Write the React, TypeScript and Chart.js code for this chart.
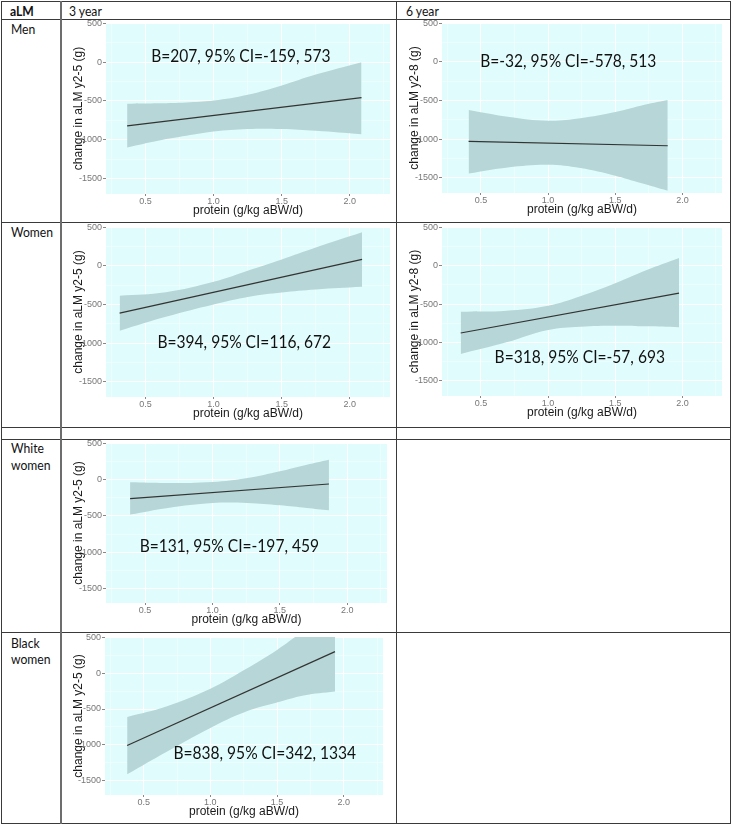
import React, { useEffect, useRef } from 'react';
import { Chart, registerables } from 'chart.js';
Chart.register(...registerables);

// ---- shared axes ----
const X_MIN = 0.21;
const X_MAX = 2.295;
const Y_MIN = -1700;
const Y_MAX = 505;
const xMajor = [0.5, 1.0, 1.5, 2.0];
const xMinor = [0.25, 0.75, 1.25, 1.75, 2.25];
const yMajor = [-1500, -1000, -500, 0, 500];
const yMinor = [-1250, -750, -250, 250];
const xTitle = 'protein (g/kg aBW/d)';

// ---- Men, 3 year ----
const men3BandX = [0.365, 0.6, 0.8, 1.0, 1.25, 1.5, 1.75, 2.086];
const men3Upper = [-536, -530, -520, -495, -420, -300, -160, 0];
const men3Lower = [-1101, -1010, -950, -895, -862, -862, -885, -930];
const men3FitX = [0.365, 2.086];
const men3FitY = [-822, -458];

// ---- Men, 6 year ----
const men6BandX = [0.408, 0.7, 1.0, 1.24, 1.5, 1.69, 1.891];
const men6Upper = [-623, -710, -762, -730, -650, -567, -494];
const men6Lower = [-1446, -1368, -1333, -1376, -1476, -1571, -1671];
const men6FitX = [0.408, 1.891];
const men6FitY = [-1030, -1087];

// ---- Women, 3 year ----
const wom3BandX = [0.31, 0.65, 1.0, 1.26, 1.5, 1.75, 2.09];
const wom3Upper = [-386, -340, -206, -55, 85, 240, 437];
const wom3Lower = [-840, -660, -501, -400, -345, -305, -270];
const wom3FitX = [0.31, 2.09];
const wom3FitY = [-613, 86];

// ---- Women, 6 year ----
const wom6BandX = [0.349, 0.69, 1.0, 1.24, 1.5, 1.73, 1.975];
const wom6Upper = [-600, -587, -522, -400, -230, -60, 100];
const wom6Lower = [-1152, -1000, -839, -796, -783, -791, -804];
const wom6FitX = [0.349, 1.975];
const wom6FitY = [-878, -357];

// ---- White women, 3 year ----
const whiteBandX = [0.389, 0.67, 1.0, 1.26, 1.5, 1.7, 1.864];
const whiteUpper = [-37, -46, -32, 23, 115, 206, 275];
const whiteLower = [-482, -390, -321, -321, -353, -390, -422];
const whiteFitX = [0.389, 1.864];
const whiteFitY = [-261, -60];

// ---- Black women, 3 year ----
const blackBandX = [0.376, 0.67, 1.0, 1.26, 1.5, 1.7, 1.935];
const blackUpper = [-611, -465, -218, 50, 325, 590, 880];
const blackLower = [-1412, -1100, -764, -542, -410, -310, -255];
const blackFitX = [0.376, 1.935];
const blackFitY = [-1009, 301];

// ---- annotations ----
const labels = [
  'B=207, 95% CI=-159, 573',
  'B=-32, 95% CI=-578, 513',
  'B=394, 95% CI=116, 672',
  'B=318, 95% CI=-57, 693',
  'B=131, 95% CI=-197, 459',
  'B=838, 95% CI=342, 1334',
];

const FONT_AXIS = '"Liberation Sans", Arial, sans-serif';
const FONT_TEXT = 'Lato, "Open Sans", sans-serif';
const BG = '#e1fcfc';
const BAND = '#b7d6d7';

type Rect = { left: number; top: number; width: number; height: number };
type Plot = { l: number; t: number; r: number; b: number };
type PanelCfg = {
  rect: Rect;
  plot: Plot;
  yTitle: string;
  bandX: number[];
  upper: number[];
  lower: number[];
  fitX: number[];
  fitY: number[];
  label: string;
  labelX: number;
  labelY: number;
};

const zip = (xs: number[], ys: number[]) => xs.map((x, i) => ({ x, y: ys[i] }));

function Panel({ cfg }: { cfg: PanelCfg }) {
  const ref = useRef<HTMLCanvasElement>(null);
  useEffect(() => {
    if (!ref.current) return;
    const { rect, plot } = cfg;
    const canvasBottom = rect.top + rect.height;
    const xTitleCenter = plot.b + 16.7;
    const xTitlePad = Math.max(0, canvasBottom - xTitleCenter - 7.2);

    const bgPlugin = {
      id: 'panelBg',
      beforeDraw(chart: any) {
        const { ctx, chartArea: a } = chart;
        ctx.save();
        ctx.fillStyle = BG;
        ctx.fillRect(a.left, a.top, a.right - a.left, a.bottom - a.top);
        ctx.restore();
      },
    };
    const textPlugin = {
      id: 'annot',
      afterDatasetsDraw(chart: any) {
        const { ctx } = chart;
        const px = chart.scales.x.getPixelForValue(cfg.labelX);
        const py = chart.scales.y.getPixelForValue(cfg.labelY);
        ctx.save();
        ctx.translate(px, py);
        ctx.scale(0.915, 1);
        ctx.font = `17px ${FONT_TEXT}`;
        ctx.fillStyle = '#111';
        ctx.textAlign = 'center';
        ctx.textBaseline = 'middle';
        ctx.fillText(cfg.label, 0, 0);
        ctx.restore();
      },
    };

    const isMajorX = (v: number) => xMajor.some((m) => Math.abs(m - v) < 1e-6);
    const isMajorY = (v: number) => yMajor.some((m) => Math.abs(m - v) < 1e-6);

    const chart = new Chart(ref.current, {
      type: 'line',
      data: {
        datasets: [
          {
            data: zip(cfg.fitX, cfg.fitY),
            borderColor: '#333333',
            borderWidth: 1.2,
            pointRadius: 0,
            fill: false,
          },
          {
            data: zip(cfg.bandX, cfg.upper),
            borderWidth: 0,
            borderColor: 'rgba(0,0,0,0)',
            backgroundColor: BAND,
            pointRadius: 0,
            tension: 0.4,
            fill: '+1',
          },
          {
            data: zip(cfg.bandX, cfg.lower),
            borderWidth: 0,
            borderColor: 'rgba(0,0,0,0)',
            pointRadius: 0,
            tension: 0.4,
            fill: false,
          },
        ],
      } as any,
      options: {
        responsive: false,
        animation: false,
        events: [],
        devicePixelRatio: 1,
        layout: {
          padding: {
            top: plot.t - rect.top,
            right: rect.left + rect.width - plot.r,
            left: 0,
            bottom: 0,
          },
        },
        plugins: {
          legend: { display: false },
          tooltip: { enabled: false },
        },
        scales: {
          x: {
            type: 'linear',
            position: 'bottom',
            min: X_MIN,
            max: X_MAX,
            afterBuildTicks: (s: any) => {
              s.ticks = [...xMinor, ...xMajor].sort((a, b) => a - b).map((v) => ({ value: v }));
            },
            afterFit: (s: any) => {
              s.height = canvasBottom - plot.b;
            },
            border: { display: false },
            grid: {
              color: (c: any) => (isMajorX(c.tick.value) ? '#ffffff' : 'rgba(255,255,255,0.7)'),
              lineWidth: (c: any) => (isMajorX(c.tick.value) ? 1 : 0.5),
              tickColor: (c: any) => (isMajorX(c.tick.value) ? '#888888' : 'rgba(0,0,0,0)'),
              tickLength: 2,
              drawTicks: true,
            },
            ticks: {
              autoSkip: false,
              maxRotation: 0,
              padding: 0,
              color: '#777777',
              font: { family: FONT_AXIS, size: 9 },
              callback: (v: any) => (isMajorX(Number(v)) ? Number(v).toFixed(1) : ''),
            },
            title: {
              display: true,
              text: xTitle,
              color: '#1a1a1a',
              font: { family: FONT_AXIS, size: 12 },
              padding: { top: 0, bottom: xTitlePad },
            },
          },
          y: {
            type: 'linear',
            min: Y_MIN,
            max: Y_MAX,
            afterBuildTicks: (s: any) => {
              s.ticks = [...yMinor, ...yMajor].sort((a, b) => a - b).map((v) => ({ value: v }));
            },
            afterFit: (s: any) => {
              s.width = plot.l - rect.left;
            },
            border: { display: false },
            grid: {
              color: (c: any) => (isMajorY(c.tick.value) ? '#ffffff' : 'rgba(255,255,255,0.7)'),
              lineWidth: (c: any) => (isMajorY(c.tick.value) ? 1 : 0.5),
              tickColor: (c: any) => (isMajorY(c.tick.value) ? '#888888' : 'rgba(0,0,0,0)'),
              tickLength: 3,
              drawTicks: true,
            },
            ticks: {
              autoSkip: false,
              padding: 1,
              color: '#777777',
              font: { family: FONT_AXIS, size: 9 },
              callback: (v: any) => (isMajorY(Number(v)) ? String(v) : ''),
            },
            title: {
              display: true,
              text: cfg.yTitle,
              color: '#1a1a1a',
              font: { family: FONT_AXIS, size: 12 },
              padding: { top: 9.8, bottom: 0 },
            },
          },
        },
      } as any,
      plugins: [bgPlugin, textPlugin],
    });
    return () => chart.destroy();
  }, [cfg]);

  const { rect } = cfg;
  return (
    <canvas
      ref={ref}
      width={rect.width}
      height={rect.height}
      style={{
        position: 'absolute',
        left: rect.left,
        top: rect.top,
        width: rect.width,
        height: rect.height,
        pointerEvents: 'none',
      }}
    />
  );
}

const panels: PanelCfg[] = [
  {
    rect: { left: 62, top: 12, width: 334, height: 210 },
    plot: { l: 106, t: 23, r: 390, b: 194 },
    yTitle: 'change in aLM y2-5 (g)',
    bandX: men3BandX, upper: men3Upper, lower: men3Lower, fitX: men3FitX, fitY: men3FitY,
    label: labels[0], labelX: 1.2, labelY: 75,
  },
  {
    rect: { left: 398, top: 12, width: 332, height: 210 },
    plot: { l: 442, t: 23, r: 722, b: 193 },
    yTitle: 'change in aLM y2-8 (g)',
    bandX: men6BandX, upper: men6Upper, lower: men6Lower, fitX: men6FitX, fitY: men6FitY,
    label: labels[1], labelX: 1.15, labelY: 0,
  },
  {
    rect: { left: 62, top: 215, width: 334, height: 212 },
    plot: { l: 106, t: 227, r: 390, b: 397 },
    yTitle: 'change in aLM y2-5 (g)',
    bandX: wom3BandX, upper: wom3Upper, lower: wom3Lower, fitX: wom3FitX, fitY: wom3FitY,
    label: labels[2], labelX: 1.225, labelY: -995,
  },
  {
    rect: { left: 398, top: 215, width: 332, height: 212 },
    plot: { l: 442, t: 227, r: 722, b: 396 },
    yTitle: 'change in aLM y2-8 (g)',
    bandX: wom6BandX, upper: wom6Upper, lower: wom6Lower, fitX: wom6FitX, fitY: wom6FitY,
    label: labels[3], labelX: 1.236, labelY: -1196,
  },
  {
    rect: { left: 62, top: 431, width: 334, height: 197 },
    plot: { l: 106, t: 443, r: 387, b: 603 },
    yTitle: 'change in aLM y2-5 (g)',
    bandX: whiteBandX, upper: whiteUpper, lower: whiteLower, fitX: whiteFitX, fitY: whiteFitY,
    label: labels[4], labelX: 1.125, labelY: -927,
  },
  {
    rect: { left: 62, top: 625, width: 334, height: 198 },
    plot: { l: 105, t: 637, r: 383, b: 795 },
    yTitle: 'change in aLM y2-5 (g)',
    bandX: blackBandX, upper: blackUpper, lower: blackLower, fitX: blackFitX, fitY: blackFitY,
    label: labels[5], labelX: 1.408, labelY: -1125,
  },
];

const LINE = '#3a3a3a';
const hLine = (y: number, key: string) => (
  <div key={key} style={{ position: 'absolute', left: 1, top: y, width: 730, height: 1, background: LINE }} />
);
const vLine = (x: number, w: number, color: string, key: string) => (
  <div key={key} style={{ position: 'absolute', left: x, top: 1, width: w, height: 823, background: color }} />
);

const cellText = (text: string, x: number, yCenter: number, key: string, bold = false) => (
  <div
    key={key}
    style={{
      position: 'absolute',
      left: x,
      top: yCenter - 9,
      height: 18,
      lineHeight: '18px',
      fontFamily: FONT_TEXT,
      fontSize: 13.5,
      fontWeight: bold ? 700 : 400,
      color: '#111',
      whiteSpace: 'nowrap',
      transform: 'scaleX(0.9)',
      transformOrigin: 'left center',
    }}
  >
    {text}
  </div>
);

export default function App() {
  return (
    <div style={{ position: 'absolute', left: 0, top: 0, width: 732, height: 827, background: '#ffffff', overflow: 'hidden' }}>
      {hLine(1, 'h0')}
      {hLine(19, 'h1')}
      {hLine(222, 'h2')}
      {hLine(427, 'h3')}
      {hLine(439, 'h4')}
      {hLine(632, 'h5')}
      {hLine(823, 'h6')}
      {vLine(1, 1, LINE, 'v0')}
      {vLine(60, 2, '#6d6d6d', 'v1')}
      {vLine(396, 1, LINE, 'v2')}
      {vLine(730, 1, LINE, 'v3')}
      {cellText('aLM', 10, 11, 't0', true)}
      {cellText('3 year', 69, 11, 't1')}
      {cellText('6 year', 406, 11, 't2')}
      {cellText('Men', 11, 29, 't3')}
      {cellText('Women', 11, 232, 't4')}
      {cellText('White', 11, 448, 't5')}
      {cellText('women', 11, 465, 't6')}
      {cellText('Black', 11, 643, 't7')}
      {cellText('women', 11, 659, 't8')}
      {panels.map((p, i) => (
        <Panel key={i} cfg={p} />
      ))}
    </div>
  );
}
